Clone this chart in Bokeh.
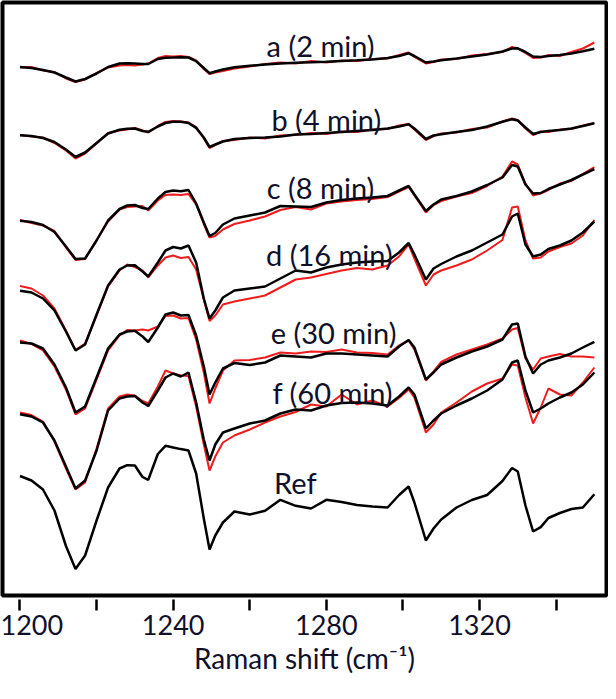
from bokeh.plotting import figure
from bokeh.models import Range1d, FixedTicker, ColumnDataSource, LinearAxis
from bokeh.embed import file_html
from bokeh.resources import INLINE
from bokeh.core.properties import value

# Raman shift (cm-1)
shift = [1200, 1203, 1206, 1209, 1212, 1214.5, 1217, 1220, 1223, 1226,
         1228, 1230, 1232, 1233.5, 1236, 1238, 1240, 1242, 1244, 1246,
         1248, 1249.5, 1251, 1253, 1256, 1260, 1264, 1268, 1272, 1276,
         1280, 1284, 1288, 1292, 1296, 1299, 1301.5, 1303, 1306, 1308,
         1310, 1314, 1318, 1322, 1326, 1328.5, 1330, 1332, 1334, 1336,
         1338, 1341, 1344, 1347, 1350]

# stacked intensities (arbitrary units, offset traces)
a_black = [525.5, 524.5, 522.5, 520, 515, 511, 513.5, 519, 525.5, 529,
           529.3, 529, 528.5, 528.5, 533.5, 534.8, 535, 535.3, 535, 531.3,
           524.5, 519.3, 521, 523, 525.2, 526.7, 528, 529, 529.7, 530.2,
           530.8, 531.5, 532.2, 533, 534.5, 536.5, 539.2, 536.5, 530, 531,
           532.2, 534, 536, 538, 541, 544, 544.2, 540.5, 536, 535.5,
           536.5, 537.5, 539, 541.2, 543.8]
a_red = [525, 525.5, 522, 520.5, 514, 510.5, 513, 519.5, 525, 527,
         527.5, 527, 528, 529, 534.5, 536.5, 536, 536.5, 535.5, 532,
         523.5, 518.5, 520, 521.5, 524, 526, 528.5, 530, 529, 531.5,
         530, 532, 531.5, 533.5, 534, 537.5, 540, 535.5, 529, 530.5,
         533, 533.5, 537, 538.5, 540.5, 545.5, 544, 539.5, 534.5, 535,
         537.5, 536.5, 540.5, 544, 550]

b_black = [457.3, 456.5, 454.5, 450.5, 443, 435.5, 440, 449.5, 459, 462.7,
           463.7, 464, 461.5, 460.7, 466, 469.5, 470.7, 470.7, 469.5, 464.6,
           455, 445.5, 448, 451, 453.5, 454.5, 455, 456, 458, 458.5,
           459.5, 460.5, 461.5, 462.5, 464, 466, 468.3, 464, 453.5, 457,
           458.3, 460.5, 462.5, 466, 470.7, 473.3, 472, 465, 458.5, 460.5,
           461.5, 462.5, 464, 466.5, 469.3]
b_red = [457.5, 456, 455, 449.5, 442, 434, 439, 449, 459.5, 462,
         463, 464.5, 462, 460, 466.5, 470.5, 471.5, 471, 470, 465.5,
         454, 444.5, 447.5, 451.5, 452.5, 455, 454, 457, 457.5, 459.5,
         458.5, 461, 460.5, 463, 463.5, 467, 468.5, 463, 452.5, 456.5,
         459, 460, 463.5, 465, 471, 474, 472.5, 464, 457.5, 461,
         460.5, 463, 463.5, 467, 469.5]

c_black = [371.7, 370.5, 367.5, 360.5, 346, 333.5, 334, 352, 372, 383.5,
           387, 387.5, 384.5, 383.5, 394, 400.5, 402, 401.2, 402.5, 389,
           370, 356.5, 359.5, 368, 374, 377, 380, 386.5, 386, 385.5,
           390, 392.5, 394, 395, 396.5, 402, 406.5, 398, 381.5, 388,
           393, 396.5, 401, 407.5, 415, 427.5, 426, 408, 399, 399.5,
           403.5, 408, 412.5, 418, 423.3]
c_red = [372.5, 369.5, 367, 361.5, 345, 332.5, 333.5, 352.5, 371, 383,
         385.5, 386, 386.5, 382, 392, 397.5, 398, 397.5, 398.5, 388,
         368.5, 355, 356.5, 363, 368.5, 372, 376, 382.5, 385.5, 383,
         389, 391, 392.5, 393.5, 395.5, 401, 405.5, 397, 380, 387.5,
         391.5, 396, 399.5, 406.5, 416, 431, 428, 409, 397, 399,
         402.5, 409, 411.5, 418.5, 425.5]

d_black = [301.7, 300, 294, 282, 261, 242, 248, 278, 307, 323,
           327, 327.3, 321, 316, 330, 342, 345.5, 344, 347, 330,
           294, 274, 282, 295, 302, 304, 306, 314, 322, 320,
           325, 328, 330, 331, 331.5, 340, 349.5, 338, 313, 324,
           328.5, 336, 342, 350, 358, 376, 379, 348, 336, 338,
           343.5, 347, 352, 360, 371]
d_red = [306.5, 304, 297, 284, 262, 242.5, 249, 277, 306, 322,
         328, 325.5, 322, 315, 327, 335, 337, 334.5, 335.5, 323,
         293, 271.5, 277, 288, 291, 294, 297, 305, 313, 315,
         318.5, 322, 324.5, 323, 327, 336, 348, 334, 307, 318,
         322, 327, 333, 342, 352.5, 385, 386, 352, 334, 335,
         341, 345.5, 349, 357, 372.5]

e_black = [250, 249, 244, 228, 205, 180, 186, 215, 244, 258,
           261, 261.7, 256, 250.5, 265, 278, 280, 277, 277.5, 257,
           226, 198, 210, 224, 229.5, 227.5, 230, 237, 236, 235,
           239, 239, 238, 237, 236, 246, 252.5, 245, 213, 220,
           228, 235, 241, 246, 253, 268, 269, 236, 219, 228,
           232, 235, 239, 245, 250.7]
e_red = [252, 248.5, 242, 226, 203, 178, 184, 213, 242, 257,
         262.5, 262, 263, 262, 266, 276.5, 277, 274, 274.5, 253,
         220, 189, 204, 222, 232, 232.5, 235, 240, 239, 241,
         240.5, 243, 240, 239.5, 238, 247, 252, 243, 212, 221,
         230.5, 238, 243, 248, 254, 263, 264.5, 234, 223, 234,
         236, 238.5, 236, 236, 235]

f_black = [178.3, 176, 170, 152, 126, 104, 112, 142, 182, 194,
           196, 196.5, 190, 186.5, 202, 215, 219, 216, 220, 190,
           153, 132, 148, 160, 164, 169, 172, 179, 183, 182,
           187, 189.5, 190, 189, 187, 196, 205, 198, 164, 172,
           179, 187, 194, 202, 213, 230, 232, 202, 180, 184,
           189, 195, 200, 208, 220]
f_red = [180, 177.5, 171, 151, 124, 103, 110, 144, 184, 196,
         198, 197, 191.5, 189, 206, 222, 219, 217, 216.5, 186,
         148, 122, 136, 150, 157, 163, 170, 176, 180.5, 188,
         186, 198, 188, 192, 186, 194.5, 203, 195, 160, 168,
         180, 190, 201, 209, 214, 228, 227, 195, 169, 185,
         204, 198, 197, 210, 225]

ref = [116.5, 112, 103, 82, 46.5, 23.5, 37, 72, 105, 124,
       127.3, 127, 115.5, 112.7, 138.5, 146.7, 145, 143.4, 142, 119,
       74, 43, 57, 70, 81, 78, 81.7, 92.7, 86.7, 84,
       92.7, 90.5, 87.5, 86, 85, 97.5, 106, 90, 52, 64,
       73, 85, 92.5, 97.5, 111.5, 124.5, 121, 87, 61, 65.4,
       74.5, 79.5, 83.5, 85, 98.3]

label_text = ["a (2 min)", "b (4 min)", "c (8 min)", "d (16 min)",
              "e (30 min)", "f (60 min)", "Ref"]
label_x = [1278.5, 1280, 1278.5, 1280.8, 1281.9, 1281.7, 1271.9]
label_y = [547, 473, 405, 338, 260, 200, 110]

tick_values = [1200, 1220, 1240, 1260, 1280, 1300, 1320, 1340]
# labelled ticks; the first label is nudged right so it stays on the page
label_ticks = [1203, 1240, 1280, 1320]
label_names = ["1200", "1240", "1280", "1320"]
x_title = "Raman shift (cm\u207b\u00b9)"

TEXT = "#10102a"

p = figure(width=608, height=683, output_backend="svg", toolbar_location=None,
           x_range=Range1d(1195.43, 1353.17), y_range=Range1d(-3, 590),
           y_axis_location=None,
           min_border_left=2, min_border_right=2, min_border_top=2,
           min_border_bottom=88)
p.grid.visible = False
p.outline_line_color = "black"
p.outline_line_width = 4
p.background_fill_color = "white"
p.border_fill_color = "white"

reds = [a_red, b_red, c_red, d_red, e_red, f_red]
blacks = [a_black, b_black, c_black, d_black, e_black, f_black, ref]
for r in reds:
    p.line(shift, r, line_color="#ee1c1c", line_width=2)
for b in blacks:
    p.line(shift, b, line_color="black", line_width=2.5)

src = ColumnDataSource(dict(x=label_x, y=label_y, t=label_text))
p.text(x="x", y="y", text="t", source=src, text_align="center",
       text_baseline="alphabetic", text_font=value("Lato"),
       text_font_size=value("29px"), text_color=TEXT)

# axis 1: tick marks only
xa = p.xaxis[0]
xa.ticker = FixedTicker(ticks=tick_values, minor_ticks=[])
xa.major_label_overrides = {v: "" for v in tick_values}
xa.major_label_text_font_size = "0px"
xa.major_label_standoff = 0
xa.axis_line_color = None
xa.major_tick_in = -4
xa.major_tick_out = 15
xa.major_tick_line_width = 2.5
xa.major_tick_line_color = "black"
xa.minor_tick_line_color = None

# axis 2: tick labels and title
xb = LinearAxis(ticker=FixedTicker(ticks=label_ticks, minor_ticks=[]))
xb.major_label_overrides = {v: s for v, s in zip(label_ticks, label_names)}
xb.axis_line_color = None
xb.major_tick_line_color = None
xb.major_tick_in = 0
xb.major_tick_out = 0
xb.minor_tick_line_color = None
xb.major_label_text_font = "Lato"
xb.major_label_text_font_size = "27px"
xb.major_label_text_color = TEXT
xb.major_label_standoff = 4
xb.axis_label = x_title
xb.axis_label_text_font = "Lato"
xb.axis_label_text_font_size = "28px"
xb.axis_label_text_font_style = "normal"
xb.axis_label_text_color = TEXT
xb.axis_label_standoff = 3
p.add_layout(xb, "below")

open("out.html", "w").write(file_html(p, INLINE))
